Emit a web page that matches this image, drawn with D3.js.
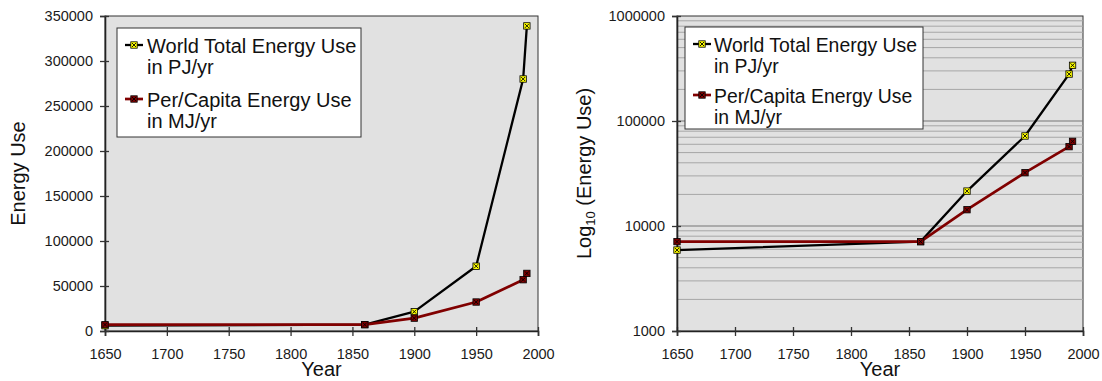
<!DOCTYPE html>
<html>
<head>
<meta charset="utf-8">
<script src="https://cdn.jsdelivr.net/npm/d3@7"></script>
<style>
  body { margin: 0; background: #fff; }
  svg { display: block; font-family: Arial, "Liberation Sans", sans-serif; }
</style>
</head>
<body>
<svg id="chart" width="1102" height="381"></svg>
<script>
// data
const years = [1650, 1860, 1900, 1950, 1988, 1991];
const worldTotal = [5900, 7100, 21500, 72000, 280000, 339000];
const perCapita = [7100, 7100, 14300, 32200, 57000, 64000];
const xTicks = [1650, 1700, 1750, 1800, 1850, 1900, 1950, 2000];
const linearTicks = [0, 50000, 100000, 150000, 200000, 250000, 300000, 350000];
const logTicks = [1000, 10000, 100000, 1000000];
const legendLabels = [
  ['World Total Energy Use', 'in PJ/yr'],
  ['Per/Capita Energy Use', 'in MJ/yr']
];

const svg = d3.select('#chart');

function marker(g, kind, x, y) {
  const s = 3.2;
  g.append('rect')
    .attr('x', x - s).attr('y', y - s)
    .attr('width', 2 * s).attr('height', 2 * s)
    .attr('fill', kind === 0 ? '#ffff00' : '#800000')
    .attr('stroke', '#000').attr('stroke-width', 0.8);
  g.append('path')
    .attr('d', `M${x - 2},${y - 2}L${x + 2},${y + 2}M${x + 2},${y - 2}L${x - 2},${y + 2}`)
    .attr('stroke', '#000').attr('stroke-width', 0.9);
}

function drawChart(opts) {
  const g = svg.append('g');
  const x = d3.scaleLinear().domain([1650, 2000]).range([opts.left, opts.right]);
  const y = opts.log
    ? d3.scaleLog().domain([1000, 1000000]).range([opts.bottom, opts.top])
    : d3.scaleLinear().domain([0, 350000]).range([opts.bottom, opts.top]);

  // plot area
  g.append('rect')
    .attr('x', opts.left).attr('y', opts.top)
    .attr('width', opts.right - opts.left).attr('height', opts.bottom - opts.top)
    .attr('fill', '#e1e1e1').attr('stroke', '#333').attr('stroke-width', 1);

  if (opts.log) {
    const minor = [];
    for (let d = 1000; d < 1000000; d *= 10) {
      for (let k = 2; k <= 9; k++) minor.push(d * k);
    }
    g.append('g').selectAll('line').data(minor).join('line')
      .attr('x1', opts.left).attr('x2', opts.right)
      .attr('y1', d => y(d)).attr('y2', d => y(d))
      .attr('stroke', '#a6a6a6').attr('stroke-width', 1);
    g.append('g').selectAll('line').data(logTicks.slice(1, 3)).join('line')
      .attr('x1', opts.left).attr('x2', opts.right)
      .attr('y1', d => y(d)).attr('y2', d => y(d))
      .attr('stroke', '#777').attr('stroke-width', 1.2);
  }

  // axes
  const xAxis = g.append('g')
    .attr('transform', `translate(0,${opts.bottom})`)
    .call(d3.axisBottom(x).tickValues(xTicks).tickFormat(d3.format('d')).tickSize(5).tickPadding(13));
  const yAxis = g.append('g')
    .attr('transform', `translate(${opts.left},0)`)
    .call(d3.axisLeft(y).tickValues(opts.log ? logTicks : linearTicks).tickFormat(d3.format('d')).tickSize(5).tickPadding(7));

  [xAxis, yAxis].forEach(a => {
    a.select('.domain').attr('stroke', '#222').attr('stroke-width', 1.6);
    a.selectAll('.tick line').attr('stroke', '#333').attr('stroke-width', 1.3);
    a.selectAll('.tick text').attr('fill', '#1a1a1a').attr('font-size', 14.5)
      .attr('font-family', 'Arial, "Liberation Sans", sans-serif');
  });
  xAxis.selectAll('.tick line').attr('y1', -4);
  yAxis.selectAll('.tick line').attr('x1', 4);

  // series
  const line = d3.line().x(d => x(d[0])).y(d => y(d[1]));
  const series = [worldTotal, perCapita];
  const colors = ['#000', '#800000'];
  const widths = [2.3, 2.7];
  series.forEach((vals, i) => {
    const pts = years.map((yr, j) => [yr, vals[j]]);
    g.append('path').datum(pts)
      .attr('d', line).attr('fill', 'none')
      .attr('stroke', colors[i]).attr('stroke-width', widths[i])
      .attr('stroke-linejoin', 'round');
    const mg = g.append('g');
    pts.forEach(p => marker(mg, i, x(p[0]), y(p[1])));
  });

  // axis titles
  g.append('text')
    .attr('x', (opts.left + opts.right) / 2).attr('y', 376)
    .attr('text-anchor', 'middle').attr('font-size', 20).attr('fill', '#111')
    .text('Year');
  const yt = g.append('text')
    .attr('transform', `translate(${opts.titleX},${(opts.top + opts.bottom) / 2}) rotate(-90)`)
    .attr('text-anchor', 'middle').attr('font-size', 20).attr('fill', '#111');
  if (opts.log) {
    yt.append('tspan').text('Log');
    yt.append('tspan').attr('font-size', 13).attr('dy', 4).text('10');
    yt.append('tspan').attr('dy', -4).text(' (Energy Use)');
  } else {
    yt.text('Energy Use');
  }

  // legend
  const lg = g.append('g');
  lg.append('rect')
    .attr('x', opts.legX).attr('y', opts.legY)
    .attr('width', opts.legW).attr('height', opts.legH)
    .attr('fill', '#fff').attr('stroke', '#333').attr('stroke-width', 1);
  legendLabels.forEach((lbl, i) => {
    const by = opts.legY + 25 + i * opts.legGap;
    const cy = by - 8;
    lg.append('line')
      .attr('x1', opts.legX + 8).attr('x2', opts.legX + 26)
      .attr('y1', cy).attr('y2', cy)
      .attr('stroke', colors[i]).attr('stroke-width', widths[i]);
    marker(lg, i, opts.legX + 17, cy);
    lbl.forEach((t, k) => {
      lg.append('text')
        .attr('x', opts.legX + opts.textOff).attr('y', by + k * 21)
        .attr('font-size', opts.legFont).attr('fill', '#111')
        .text(t);
    });
  });
}

drawChart({ left: 105, right: 538, top: 16, bottom: 331, log: false, titleX: 25,
  legX: 117, legY: 28, legW: 244, legH: 109, legGap: 54, legFont: 20, textOff: 30 });
drawChart({ left: 677, right: 1083, top: 16, bottom: 331, log: true, titleX: 591,
  legX: 685, legY: 27, legW: 238, legH: 102, legGap: 51, legFont: 19.4, textOff: 29 });
</script>
</body>
</html>
